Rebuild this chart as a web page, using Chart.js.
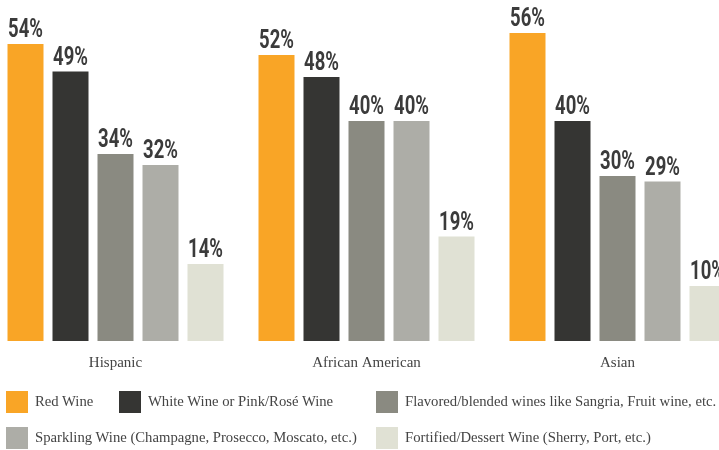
<!DOCTYPE html>
<html>
<head>
<meta charset="utf-8">
<script src="https://cdn.jsdelivr.net/npm/chart.js@4"></script>
<style>
  html, body { margin: 0; padding: 0; background: #fff; overflow: hidden; width: 719px; height: 450px; }
  #wrap { position: absolute; left: -10.5px; top: 0; width: 753px; height: 380px; }
  #legend { position: absolute; left: 0; top: 0; width: 719px; height: 450px; pointer-events: none; }
  .item { position: absolute; font: 14.7px "Liberation Serif", serif; color: #444; white-space: nowrap; }
  .item span.box { position: absolute; left: 0; top: 0; width: 22px; height: 22px; }
  .item span.txt { position: absolute; left: 29px; top: 2px; }
</style>
</head>
<body>
<div id="wrap"><canvas id="wine"></canvas></div>
<div id="legend"></div>
<script>
var groups = ["Hispanic", "African American", "Asian"];
var seriesNames = [
  "Red Wine",
  "White Wine or Pink/Rosé Wine",
  "Flavored/blended wines like Sangria, Fruit wine, etc.",
  "Sparkling Wine (Champagne, Prosecco, Moscato, etc.)",
  "Fortified/Dessert Wine (Sherry, Port, etc.)"
];
var redWine = [54, 52, 56];
var whiteWine = [49, 48, 40];
var flavoredWine = [34, 40, 30];
var sparklingWine = [32, 40, 29];
var fortifiedWine = [14, 19, 10];
var colors = ["#F9A526", "#353533", "#8A8A81", "#ADADA7", "#E0E1D4"];

var allValues = [redWine, whiteWine, flavoredWine, sparklingWine, fortifiedWine];

// legend layout (x, y) per series, same order as seriesNames
var legendPos = [[6, 391], [119, 391], [376, 391], [6, 427], [376, 427]];
var legend = document.getElementById("legend");
seriesNames.forEach(function (name, i) {
  var d = document.createElement("div");
  d.className = "item";
  d.style.left = legendPos[i][0] + "px";
  d.style.top = legendPos[i][1] + "px";
  d.innerHTML = '<span class="box" style="background:' + colors[i] + '"></span><span class="txt"></span>';
  d.querySelector(".txt").textContent = name;
  legend.appendChild(d);
});

var valueLabels = {
  id: "valueLabels",
  afterDatasetsDraw: function (chart) {
    var ctx = chart.ctx;
    ctx.save();
    ctx.fillStyle = "#3b3b3b";
    ctx.font = "bold 25px Roboto";
    ctx.textAlign = "center";
    ctx.textBaseline = "alphabetic";
    chart.data.datasets.forEach(function (ds, i) {
      chart.getDatasetMeta(i).data.forEach(function (bar, j) {
        ctx.save();
        ctx.translate(bar.x, bar.y - 7);
        ctx.scale(0.74, 1);
        ctx.fillText(ds.data[j] + "%", 0, 0);
        ctx.restore();
      });
    });
    ctx.restore();
  }
};

new Chart(document.getElementById("wine"), {
  type: "bar",
  data: {
    labels: groups,
    datasets: seriesNames.map(function (name, i) {
      return {
        label: name,
        data: allValues[i],
        backgroundColor: colors[i],
        borderWidth: 0,
        categoryPercentage: 225 / 251,
        barPercentage: 0.8
      };
    })
  },
  options: {
    responsive: true,
    maintainAspectRatio: false,
    animation: false,
    layout: { padding: { top: 11, left: 0, right: 0, bottom: 0 } },
    plugins: { legend: { display: false }, tooltip: { enabled: false } },
    scales: {
      x: {
        grid: { display: false, drawTicks: false },
        border: { display: false },
        ticks: { color: "#444", font: { family: "Liberation Serif", size: 15 }, padding: 13 },
        afterFit: function (s) { s.height = 39; }
      },
      y: { display: false, min: 0, max: 60 }
    }
  },
  plugins: [valueLabels]
});
</script>
</body>
</html>
